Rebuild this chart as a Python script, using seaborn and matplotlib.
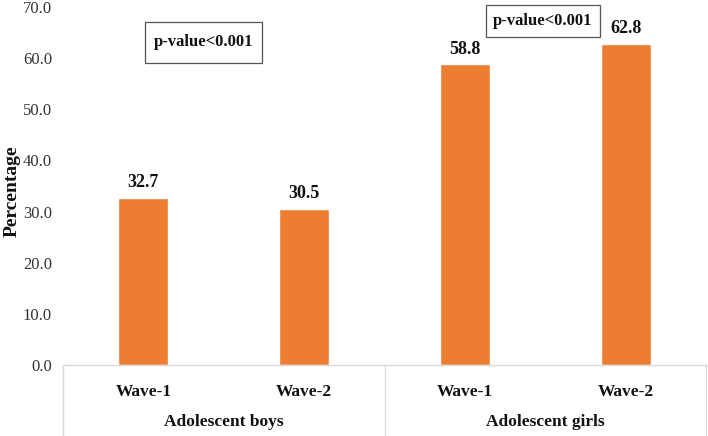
import numpy as np
import pandas as pd
import matplotlib
matplotlib.use("Agg")
import matplotlib.pyplot as plt
import seaborn as sns
from matplotlib.patches import Rectangle
from matplotlib.lines import Line2D

# data
groups = ["Adolescent boys", "Adolescent girls"]
waves = ["Wave-1", "Wave-2"]
values = [32.7, 30.5, 58.8, 62.8]
p_text = "p-value<0.001"

keys = [g + " " + w for g in groups for w in waves]
df = pd.DataFrame({"key": keys, "value": values})

sns.set_theme(style="white")
plt.rcParams["font.family"] = ["Liberation Serif", "DejaVu Serif"]

fig = plt.figure(figsize=(7.08, 4.36), dpi=100)
W, H = 708, 436
x0, x1, y0, y1 = 63, 706, 365, 7
ax = fig.add_axes([x0 / W, 1 - y0 / H, (x1 - x0) / W, (y0 - y1) / H])

sns.barplot(data=df, x="key", y="value", order=keys, color="#ED7D31",
            saturation=1, width=0.31, ax=ax)

ax.set_ylim(0, 70)
ax.set_xlim(-0.5, len(keys) - 0.5)
ax.set_yticks(np.arange(0, 71, 10))
ax.set_yticklabels([f"{v:.1f}" for v in np.arange(0, 71, 10)], fontsize=12, color="#333333")
ax.tick_params(axis="y", length=0, pad=8)
ax.set_xticks([])
ax.set_xlabel("")
ax.set_ylabel("")
fig.text(12 / W, 1 - 191 / H, "Percentage", rotation=90, ha="center", va="center",
         fontsize=14, fontweight="bold", color="#111111")
for s in ["top", "right", "left"]:
    ax.spines[s].set_visible(False)
ax.spines["bottom"].set_color("#d9d9d9")
ax.spines["bottom"].set_linewidth(1)

for i, v in enumerate(values):
    ax.text(i, v + 1.3, f"{v:.1f}", ha="center", va="bottom",
            fontsize=13, fontweight="bold", color="#111111")

# two-level category axis
for i, k in enumerate(keys):
    ax.text(i, -0.075, waves[i % 2], transform=ax.get_xaxis_transform(),
            ha="center", va="center", fontsize=12.5, fontweight="bold", color="#111111")
for j, g in enumerate(groups):
    ax.text(2 * j + 0.5, -0.16, g, transform=ax.get_xaxis_transform(),
            ha="center", va="center", fontsize=12.5, fontweight="bold", color="#111111")
for xp in [x0, 385, x1]:
    fig.add_artist(Line2D([xp / W, xp / W], [0, 1 - y0 / H], color="#d9d9d9", lw=1))

# p-value boxes
for (bx0, by0, bx1, by1) in [(145, 22, 262, 63), (486, 5, 600, 37)]:
    fig.add_artist(Rectangle((bx0 / W, 1 - by1 / H), (bx1 - bx0) / W, (by1 - by0) / H,
                             fill=False, edgecolor="#555555", lw=0.9, transform=fig.transFigure))
    fig.text((bx0 + bx1) / 2 / W, 1 - (by0 + by1) / 2 / H, p_text, ha="center", va="center",
             fontsize=12, fontweight="bold", color="#111111")

fig.savefig("out.png", dpi=100)
